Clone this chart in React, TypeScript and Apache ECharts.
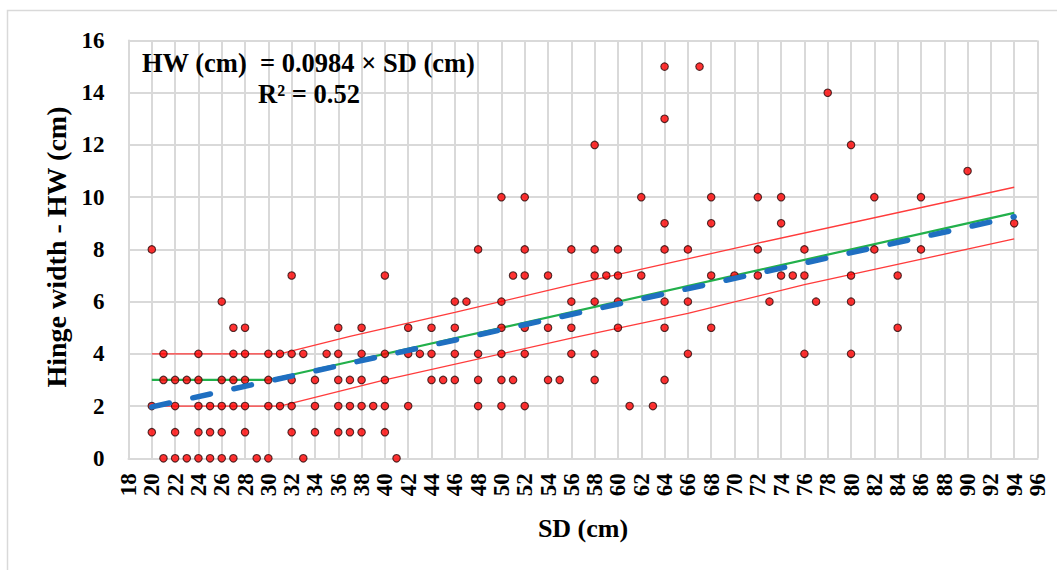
import React, { useEffect, useRef } from "react";
import * as echarts from "echarts";

// Scatter observations grouped by HW value (cm): SD values (cm) at each HW level
const hwLevels = [0, 1, 2, 3, 4, 5, 6, 7, 8, 9, 10, 11, 12, 13, 14, 15];
const sdAtHw0 = [21, 22, 23, 24, 25, 26, 27, 29, 30, 33, 41];
const sdAtHw1 = [20, 22, 24, 25, 26, 28, 32, 34, 36, 37, 38, 40];
const sdAtHw2 = [20, 22, 24, 25, 26, 27, 28, 30, 31, 32, 34, 36, 37, 38, 39, 40, 42, 48, 50, 52, 61, 63];
const sdAtHw3 = [21, 22, 23, 24, 26, 27, 28, 30, 32, 34, 36, 37, 38, 40, 44, 45, 46, 48, 50, 51, 54, 55, 58, 64];
const sdAtHw4 = [21, 24, 27, 28, 30, 31, 32, 33, 35, 36, 38, 40, 42, 43, 44, 46, 48, 50, 52, 56, 58, 66, 76, 80];
const sdAtHw5 = [27, 28, 36, 38, 42, 44, 46, 50, 52, 54, 56, 60, 64, 68, 84];
const sdAtHw6 = [26, 46, 47, 50, 56, 58, 60, 64, 66, 73, 77, 80];
const sdAtHw7 = [32, 40, 51, 52, 54, 58, 59, 60, 62, 68, 70, 72, 74, 75, 76, 80, 84];
const sdAtHw8 = [20, 48, 52, 56, 58, 60, 64, 66, 72, 76, 82, 86];
const sdAtHw9 = [64, 68, 74, 94];
const sdAtHw10 = [50, 52, 62, 68, 72, 74, 82, 86];
const sdAtHw11 = [90];
const sdAtHw12 = [58, 80];
const sdAtHw13 = [64];
const sdAtHw14 = [78];
const sdAtHw15 = [64, 67];
const sdByHw = [sdAtHw0, sdAtHw1, sdAtHw2, sdAtHw3, sdAtHw4, sdAtHw5, sdAtHw6, sdAtHw7, sdAtHw8, sdAtHw9, sdAtHw10, sdAtHw11, sdAtHw12, sdAtHw13, sdAtHw14, sdAtHw15];

// Line vertices: [SD, HW]
const regressionLine = [[20, 1.97], [94, 9.25]];
const greenLine = [[20, 3], [30, 3], [94, 9.4]];
const upperBand = [[20, 4], [31, 4], [37, 4.67], [46, 5.59], [56, 6.64], [72, 8.24], [94, 10.38]];
const lowerBand = [[20, 2], [31, 2], [40, 3], [56, 4.6], [66, 5.55], [76, 6.65], [94, 8.4]];

// Axis settings
const xMin = 18, xMax = 96, xStep = 2;
const yMin = 0, yMax = 16, yStep = 2;

const FONT = '"Liberation Serif", "Times New Roman", serif';

export default function App() {
  const ref = useRef<HTMLDivElement>(null);
  useEffect(() => {
    if (!ref.current) return;
    const chart = echarts.init(ref.current, undefined, { renderer: "svg" });
    const points: number[][] = [];
    hwLevels.forEach((hw, i) => sdByHw[i].forEach((sd) => points.push([sd, hw])));
    const gridColor = "#d9d9d9";
    chart.setOption({
      animation: false,
      backgroundColor: "#ffffff",
      grid: { left: 128.5, top: 40.5, right: 19.5, bottom: 111.7, containLabel: false },
      xAxis: {
        type: "value",
        min: xMin,
        max: xMax,
        interval: xStep,
        axisLine: { show: true, lineStyle: { color: gridColor, width: 2 } },
        axisTick: { show: false },
        splitLine: { show: true, lineStyle: { color: gridColor, width: 2 } },
        axisLabel: {
          rotate: 90,
          margin: 15,
          color: "#000",
          fontFamily: FONT,
          fontWeight: "bold",
          fontSize: 23,
        },
      },
      yAxis: {
        type: "value",
        min: yMin,
        max: yMax,
        interval: yStep,
        axisLine: { show: true, lineStyle: { color: gridColor, width: 2 } },
        axisTick: { show: false },
        splitLine: { show: true, lineStyle: { color: gridColor, width: 2 } },
        axisLabel: {
          margin: 24,
          color: "#000",
          fontFamily: FONT,
          fontWeight: "bold",
          fontSize: 23,
        },
      },
      graphic: [
        {
          type: "rect",
          silent: true,
          shape: { x: 7.5, y: 10.5, width: 1100, height: 600 },
          style: { fill: "none", stroke: "#d9d9d9", lineWidth: 1.5 },
          z: -10,
        },
        {
          type: "text",
          x: 56,
          y: 247,
          rotation: Math.PI / 2,
          style: {
            text: "Hinge width - HW (cm)",
            fill: "#000",
            font: `bold 28px ${FONT}`,
            align: "center",
            verticalAlign: "middle",
          },
        },
        {
          type: "text",
          x: 583,
          y: 528,
          style: {
            text: "SD (cm)",
            fill: "#000",
            font: `bold 26px ${FONT}`,
            align: "center",
            verticalAlign: "middle",
          },
        },
        {
          type: "text",
          x: 142,
          y: 63,
          z: 100,
          style: {
            text: "HW (cm)  = 0.0984 × SD (cm)",
            fill: "#000",
            font: `bold 26.5px ${FONT}`,
            align: "left",
            verticalAlign: "middle",
          },
        },
        {
          type: "text",
          x: 309,
          y: 94,
          z: 100,
          style: {
            text: "R² = 0.52",
            fill: "#000",
            font: `bold 26.5px ${FONT}`,
            align: "center",
            verticalAlign: "middle",
          },
        },
      ],
      series: [
        {
          type: "line",
          data: upperBand,
          symbol: "none",
          z: 2,
          lineStyle: { color: "#ff3b3b", width: 1.3 },
        },
        {
          type: "line",
          data: lowerBand,
          symbol: "none",
          z: 2,
          lineStyle: { color: "#ff3b3b", width: 1.3 },
        },
        {
          type: "line",
          data: greenLine,
          symbol: "none",
          z: 3,
          lineStyle: { color: "#22b04b", width: 2.2 },
        },
        {
          type: "scatter",
          data: points,
          symbol: "circle",
          symbolSize: 7.5,
          z: 4,
          itemStyle: { color: "#ff0000", borderColor: "#2a0a0a", borderWidth: 1.1 },
        },
        {
          type: "line",
          data: regressionLine,
          symbol: "none",
          z: 5,
          lineStyle: { color: "#1f6fc1", width: 5.5, type: [18, 24], cap: "round" },
        },
      ],
    });
    return () => chart.dispose();
  }, []);
  return (
    <div
      ref={ref}
      style={{ position: "fixed", left: 0, top: 0, width: 1057, height: 570, background: "#fff" }}
    />
  );
}
